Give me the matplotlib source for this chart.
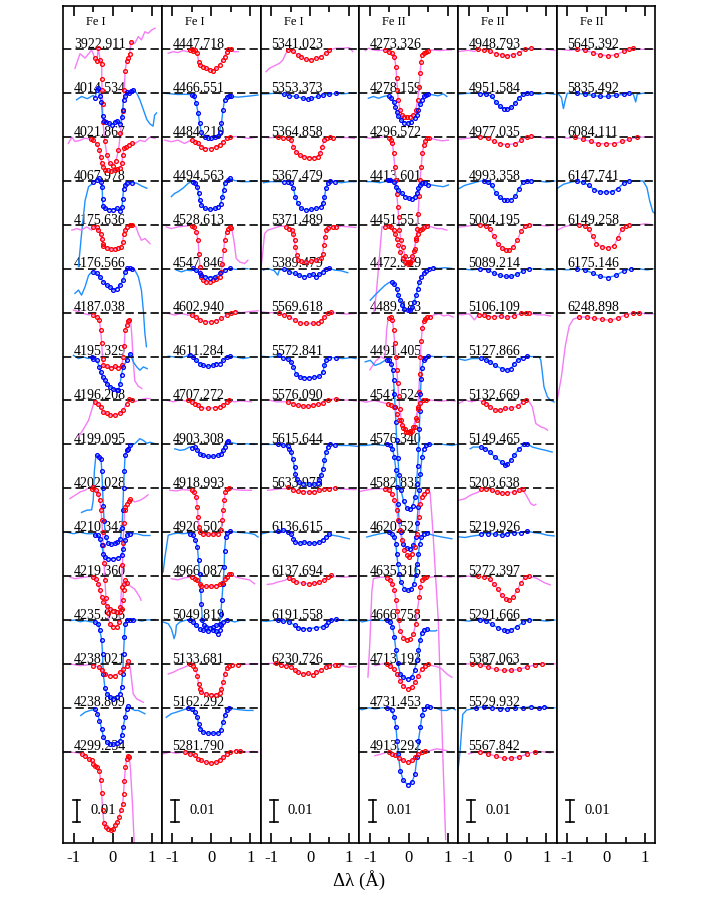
import numpy as np
import matplotlib
matplotlib.use('Agg')
import matplotlib.pyplot as plt

plt.rcParams['font.family'] = ['Liberation Serif', 'DejaVu Serif']
plt.rcParams['axes.unicode_minus'] = False

# ---------------- data: (delta-lambda [A], flux offset [units of 0.01]) ----------------
C1_LABELS = ["3922.911", "4014.534", "4021.867", "4067.978", "4175.636", "4176.566",
             "4187.038", "4195.329", "4196.208", "4199.095", "4202.028", "4210.343",
             "4219.360", "4235.936", "4238.021", "4238.809", "4299.234"]
C1_MARKS = [(-0.47, 0.48), (-0.46, 0.55), (-0.56, 0.5), (-0.51, 0.5), (-0.51, 0.52), (-0.5, 0.5),
            (-0.51, 0.44), (-0.55, 0.46), (-0.46, 0.5), (-0.42, 0.46), (-0.55, 0.46), (-0.46, 0.46),
            (-0.51, 0.37), (-0.46, 0.54), (-0.51, 0.41), (-0.46, 0.41), (-0.81, 0.44)]
C1_PROFILES = [
    [(-0.97,-0.87),(-0.84,-0.2),(-0.71,-0.4),(-0.54,-0.03),(-0.46,-0.4),(-0.41,-0.55),(-0.37,0.05),(-0.32,-0.5),(-0.28,-0.65),(-0.28,-1.35),(-0.27,-1.85),(-0.26,-2.5),(-0.25,-3.3),(-0.2,-4.2),(-0.15,-4.8),(-0.08,-5.2),(0.0,-5.3),(0.08,-5.1),(0.15,-4.6),(0.2,-3.8),(0.26,-2.8),(0.3,-1.85),(0.32,-1.0),(0.36,-0.55),(0.4,-0.4),(0.44,-0.2),(0.47,0.35),(0.57,0.27),(0.66,0.58),(0.74,0.43),(0.83,0.8),(0.92,0.73),(1.0,0.88),(1.09,0.96)],
    [(-0.93,-0.3),(-0.8,-0.15),(-0.65,-0.25),(-0.5,-0.1),(-0.45,-0.2),(-0.41,0.15),(-0.37,0.23),(-0.33,-0.15),(-0.29,-0.4),(-0.26,-1.06),(-0.23,-1.25),(-0.18,-1.3),(-0.1,-1.35),(-0.02,-1.45),(0.05,-1.3),(0.12,-1.25),(0.2,-1.4),(0.24,-1.1),(0.26,-0.75),(0.28,-0.3),(0.32,-0.15),(0.36,0.05),(0.41,0.0),(0.46,0.1),(0.53,0.15),(0.62,0.0),(0.7,-0.3),(0.8,-0.8),(0.88,-1.2),(0.96,-1.4),(1.04,-1.5),(1.08,-1.0),(1.13,-0.9)],
    [(-1.14,-0.29),(-1.05,0.0),(-0.97,-0.2),(-0.84,-0.15),(-0.71,-0.05),(-0.58,-0.1),(-0.55,-0.1),(-0.5,-0.15),(-0.41,-0.3),(-0.34,-0.6),(-0.31,-0.9),(-0.28,-1.2),(-0.24,-1.35),(-0.2,-1.5),(-0.12,-1.5),(-0.05,-1.55),(0.05,-1.5),(0.12,-1.45),(0.2,-1.4),(0.24,-1.2),(0.26,-0.8),(0.3,-0.5),(0.35,-0.45),(0.42,-0.35),(0.49,-0.29),(0.57,-0.29),(0.7,-0.15),(0.83,-0.2),(0.96,0.0),(1.09,-0.06)],
    [(-0.88,-3.9),(-0.8,-2.4),(-0.71,-0.9),(-0.62,-0.26),(-0.54,-0.15),(-0.5,-0.03),(-0.41,0.05),(-0.34,0.12),(-0.3,-0.03),(-0.27,-0.26),(-0.26,-0.8),(-0.25,-1.15),(-0.2,-1.25),(-0.1,-1.3),(0.0,-1.3),(0.1,-1.25),(0.2,-1.35),(0.24,-1.2),(0.26,-0.8),(0.28,-0.35),(0.32,-0.2),(0.36,-0.08),(0.49,-0.08),(0.62,-0.1),(0.75,-0.23),(0.88,-0.33)],
    [(-1.05,-0.24),(-0.92,-0.17),(-0.8,-0.24),(-0.67,-0.09),(-0.54,-0.24),(-0.5,-0.1),(-0.41,-0.09),(-0.37,-0.24),(-0.31,-0.4),(-0.28,-0.62),(-0.26,-0.85),(-0.24,-0.95),(-0.15,-1.05),(-0.05,-1.1),(0.05,-1.1),(0.15,-1.05),(0.22,-1.0),(0.26,-0.8),(0.28,-0.4),(0.32,-0.24),(0.36,-0.09),(0.45,0.0),(0.51,-0.01),(0.6,-0.09),(0.66,-0.4),(0.74,-0.7),(0.83,-0.62),(0.96,-0.85)],
    [(-0.97,-1.12),(-0.88,-0.97),(-0.8,-1.2),(-0.71,-0.82),(-0.62,-0.3),(-0.54,-0.14),(-0.5,-0.14),(-0.41,-0.21),(-0.33,-0.36),(-0.24,-0.59),(-0.15,-0.74),(-0.07,-0.82),(0.02,-0.97),(0.1,-0.9),(0.19,-0.74),(0.27,-0.52),(0.32,-0.14),(0.36,0.02),(0.45,0.02),(0.49,0.0),(0.57,-0.06),(0.66,-0.36),(0.74,-0.97),(0.79,-1.9),(0.83,-2.95),(0.87,-3.55)],
    [(-1.01,0.12),(-0.88,0.05),(-0.75,-0.03),(-0.62,-0.1),(-0.54,-0.03),(-0.5,-0.1),(-0.41,-0.18),(-0.34,-0.33),(-0.31,-0.8),(-0.28,-1.4),(-0.26,-2.1),(-0.24,-2.4),(-0.15,-2.45),(-0.05,-2.5),(0.05,-2.45),(0.15,-2.5),(0.24,-2.4),(0.27,-2.0),(0.3,-1.5),(0.32,-0.8),(0.36,-0.55),(0.4,-0.4),(0.43,-0.33),(0.46,-0.33),(0.49,-0.95),(0.53,-2.2),(0.57,-3.1),(0.66,-3.35),(0.75,-3.45)],
    [(-1.01,0.06),(-0.88,-0.09),(-0.75,-0.02),(-0.62,-0.09),(-0.54,-0.02),(-0.5,-0.09),(-0.41,-0.17),(-0.34,-0.47),(-0.31,-0.7),(-0.26,-0.93),(-0.2,-1.08),(-0.15,-1.23),(-0.07,-1.38),(0.02,-1.46),(0.12,-1.5),(0.15,-1.52),(0.19,-1.23),(0.23,-0.82),(0.27,-0.47),(0.36,-0.17),(0.45,0.14),(0.53,-0.24),(0.62,-0.47),(0.7,-0.62),(0.79,-0.47),(0.89,-0.55)],
    [(-0.88,-1.65),(-0.75,-1.3),(-0.62,-0.9),(-0.5,-0.2),(-0.45,-0.06),(-0.37,-0.14),(-0.31,-0.3),(-0.26,-0.52),(-0.15,-0.59),(-0.07,-0.67),(0.06,-0.67),(0.19,-0.59),(0.27,-0.44),(0.36,-0.14),(0.43,0.09),(0.49,0.02),(0.57,-0.06),(0.7,0.02),(0.83,0.09),(0.96,0.09)],
    [(-0.8,-3.1),(-0.67,-3.0),(-0.54,-2.98),(-0.5,-2.55),(-0.47,-1.2),(-0.43,-0.5),(-0.41,-0.5),(-0.34,-0.58),(-0.3,-0.65),(-0.28,-1.2),(-0.26,-2.0),(-0.24,-2.8),(-0.22,-3.5),(-0.18,-4.2),(-0.12,-4.5),(-0.05,-4.55),(0.05,-4.5),(0.12,-4.45),(0.2,-4.3),(0.24,-3.8),(0.26,-3.0),(0.28,-2.0),(0.3,-1.2),(0.32,-0.5),(0.36,-0.27),(0.4,-0.2),(0.45,-0.05),(0.57,0.03),(0.7,0.26),(0.79,0.18),(0.88,0.05),(0.96,0.1),(1.09,0.03)],
    [(-1.1,-0.47),(-0.97,-0.32),(-0.84,-0.17),(-0.71,-0.09),(-0.58,0.06),(-0.54,-0.02),(-0.5,0.06),(-0.43,-0.09),(-0.37,-0.24),(-0.33,-0.55),(-0.3,-1.0),(-0.28,-1.45),(-0.26,-2.0),(-0.24,-2.6),(-0.22,-3.4),(-0.2,-4.2),(-0.17,-5.0),(-0.13,-5.7),(-0.07,-6.2),(0.02,-6.3),(0.1,-6.3),(0.16,-6.1),(0.2,-5.4),(0.23,-4.5),(0.25,-3.5),(0.27,-2.5),(0.29,-1.6),(0.31,-1.0),(0.33,-0.85),(0.37,-0.7),(0.41,-0.6),(0.45,-0.5),(0.57,-0.62),(0.7,-0.55),(0.8,-0.45),(0.91,-0.3)],
    [(-1.18,0.0),(-1.01,-0.07),(-0.84,0.0),(-0.67,-0.07),(-0.5,-0.07),(-0.45,-0.15),(-0.37,-0.15),(-0.33,-0.3),(-0.28,-0.6),(-0.24,-1.0),(-0.2,-1.13),(-0.11,-1.2),(0.02,-1.2),(0.15,-1.16),(0.23,-1.06),(0.27,-0.75),(0.32,-0.37),(0.36,-0.15),(0.45,-0.07),(0.62,-0.07),(0.79,-0.15),(0.96,-0.15)],
    [(-1.1,-0.05),(-0.97,-0.12),(-0.84,-0.08),(-0.71,-0.05),(-0.58,-0.02),(-0.5,-0.05),(-0.43,-0.12),(-0.37,-0.35),(-0.33,-0.65),(-0.28,-0.96),(-0.24,-1.19),(-0.15,-1.34),(-0.07,-1.49),(0.02,-1.57),(0.1,-1.64),(0.19,-1.64),(0.23,-1.49),(0.26,-1.1),(0.28,-0.65),(0.3,-0.35),(0.33,-0.2),(0.36,-0.3),(0.45,-0.45),(0.57,-0.6),(0.7,-0.96),(0.73,-1.1)],
    [(-1.1,-0.03),(-0.97,0.0),(-0.84,-0.08),(-0.71,-0.03),(-0.58,-0.08),(-0.45,-0.1),(-0.37,-0.17),(-0.33,-0.47),(-0.28,-0.93),(-0.26,-1.55),(-0.24,-2.45),(-0.2,-3.1),(-0.15,-3.35),(-0.07,-3.5),(0.02,-3.6),(0.1,-3.5),(0.19,-3.35),(0.23,-3.05),(0.26,-2.45),(0.28,-1.55),(0.3,-0.78),(0.32,-0.17),(0.36,0.0),(0.45,0.02),(0.53,0.0),(0.62,0.0),(0.75,-0.05),(0.87,0.0),(1.09,0.02)],
    [(-1.1,0.0),(-0.84,-0.08),(-0.58,-0.03),(-0.5,-0.08),(-0.34,-0.15),(-0.28,-0.3),(-0.2,-0.45),(-0.07,-0.53),(0.06,-0.53),(0.19,-0.38),(0.27,-0.23),(0.36,-0.08),(0.4,0.12),(0.45,-0.15),(0.49,-0.76),(0.53,-1.37),(0.62,-1.6),(0.7,-1.67),(0.79,-1.75)],
    [(-0.82,-0.35),(-0.71,-0.2),(-0.58,-0.12),(-0.5,-0.09),(-0.45,-0.05),(-0.39,-0.27),(-0.34,-0.58),(-0.28,-0.96),(-0.24,-1.34),(-0.15,-1.57),(-0.07,-1.64),(0.02,-1.67),(0.1,-1.61),(0.19,-1.49),(0.23,-1.26),(0.27,-0.88),(0.32,-0.43),(0.36,-0.05),(0.4,0.06),(0.49,-0.05),(0.57,-0.12),(0.66,-0.12),(0.75,-0.2),(0.83,-0.27)],
    [(-1.27,0.0),(-1.1,-0.02),(-0.9,-0.05),(-0.8,-0.1),(-0.71,-0.18),(-0.62,-0.33),(-0.54,-0.4),(-0.5,-0.55),(-0.45,-0.63),(-0.39,-0.71),(-0.34,-0.86),(-0.31,-1.3),(-0.28,-1.9),(-0.26,-2.66),(-0.22,-3.27),(-0.17,-3.42),(-0.11,-3.5),(-0.03,-3.57),(0.02,-3.5),(0.06,-3.35),(0.12,-3.2),(0.17,-2.97),(0.21,-2.66),(0.26,-2.36),(0.28,-1.92),(0.3,-1.32),(0.33,-0.71),(0.36,-0.33),(0.4,-0.18),(0.43,-0.25),(0.46,-0.86),(0.51,-2.36),(0.55,-4.0),(0.6,-6.0)],
]

C2_LABELS = ["4447.718", "4466.551", "4484.219", "4494.563", "4528.613", "4547.846",
             "4602.940", "4611.284", "4707.272", "4903.308", "4918.993", "4920.502",
             "4966.087", "5049.819", "5133.681", "5162.292", "5281.790"]
C2_MARKS = [(-0.57, 0.51), (-0.52, 0.52), (-0.52, 0.48), (-0.48, 0.48), (-0.52, 0.51), (-0.48, 0.48),
            (-0.52, 0.61), (-0.57, 0.48), (-0.61, 0.46), (-0.52, 0.44), (-0.52, 0.46), (-0.57, 0.48),
            (-0.52, 0.51), (-0.57, 0.4), (-0.57, 0.7), (-0.61, 0.46), (-0.7, 0.74)]
C2_PROFILES = [
    [(-1.11,-0.18),(-0.98,-0.11),(-0.86,-0.15),(-0.73,-0.06),(-0.6,-0.11),(-0.56,-0.03),(-0.51,0.0),(-0.47,-0.06),(-0.41,-0.03),(-0.36,-0.18),(-0.33,-0.56),(-0.3,-0.71),(-0.21,-0.79),(-0.13,-0.87),(-0.04,-0.94),(0.04,-0.97),(0.13,-0.87),(0.21,-0.71),(0.3,-0.49),(0.34,-0.33),(0.39,-0.11),(0.43,0.0),(0.5,0.0),(0.58,-0.11),(0.69,-0.11)],
    [(-1.2,0.0),(-1.03,-0.03),(-0.86,-0.06),(-0.69,-0.05),(-0.56,-0.06),(-0.51,-0.08),(-0.45,-0.12),(-0.39,-0.46),(-0.34,-0.91),(-0.3,-1.37),(-0.26,-1.75),(-0.17,-1.98),(-0.09,-2.05),(0.0,-2.05),(0.09,-2.0),(0.17,-1.94),(0.21,-1.75),(0.26,-1.37),(0.3,-0.76),(0.34,-0.3),(0.39,-0.18),(0.45,-0.12),(0.51,-0.15),(0.69,-0.18),(0.86,-0.15),(1.03,-0.12),(1.2,-0.08)],
    [(-1.2,-0.14),(-1.03,-0.21),(-0.86,-0.14),(-0.69,-0.29),(-0.53,-0.14),(-0.51,-0.14),(-0.43,-0.21),(-0.34,-0.29),(-0.26,-0.44),(-0.17,-0.52),(0.0,-0.52),(0.13,-0.44),(0.21,-0.36),(0.3,-0.21),(0.39,-0.06),(0.47,0.02),(0.64,0.02),(0.81,-0.02),(0.98,-0.06),(1.16,0.0)],
    [(-1.03,-0.71),(-0.94,-0.56),(-0.86,-0.49),(-0.73,-0.33),(-0.6,-0.11),(-0.51,-0.03),(-0.47,-0.03),(-0.41,-0.08),(-0.36,-0.26),(-0.33,-0.56),(-0.3,-0.87),(-0.26,-1.09),(-0.17,-1.25),(-0.04,-1.29),(0.09,-1.25),(0.17,-1.17),(0.24,-1.03),(0.28,-0.72),(0.32,-0.41),(0.34,-0.11),(0.43,0.05),(0.47,0.12),(0.6,0.02),(0.77,-0.03),(0.94,-0.03),(1.16,0.0)],
    [(-1.16,-0.09),(-1.03,-0.17),(-0.86,-0.09),(-0.69,-0.06),(-0.56,-0.03),(-0.51,-0.03),(-0.45,-0.09),(-0.39,-0.32),(-0.34,-0.7),(-0.32,-1.31),(-0.29,-1.92),(-0.26,-2.37),(-0.21,-2.52),(-0.13,-2.6),(-0.04,-2.6),(0.04,-2.52),(0.13,-2.45),(0.21,-2.37),(0.26,-2.14),(0.28,-1.76),(0.32,-1.16),(0.34,-0.7),(0.39,-0.32),(0.43,-0.17),(0.47,-0.09),(0.5,-0.12),(0.53,-0.24),(0.58,-0.7),(0.64,-1.53),(0.73,-1.69),(0.86,-1.76),(0.94,-1.61)],
    [(-0.9,-0.06),(-0.77,-0.14),(-0.64,-0.06),(-0.51,-0.09),(-0.47,0.02),(-0.39,-0.06),(-0.3,-0.21),(-0.26,-0.29),(-0.17,-0.36),(-0.04,-0.4),(0.09,-0.36),(0.21,-0.21),(0.34,-0.06),(0.47,0.02),(0.64,-0.03),(0.81,0.02),(0.94,0.0)],
    [(-1.11,-0.03),(-0.94,-0.11),(-0.77,-0.03),(-0.6,-0.11),(-0.51,-0.11),(-0.39,-0.18),(-0.3,-0.33),(-0.17,-0.41),(0.0,-0.41),(0.13,-0.36),(0.26,-0.26),(0.39,-0.11),(0.51,-0.03),(0.6,0.05),(0.77,0.0),(0.98,0.05),(1.2,0.09)],
    [(-1.11,0.02),(-0.94,-0.02),(-0.77,-0.05),(-0.64,0.02),(-0.56,0.06),(-0.47,-0.02),(-0.39,-0.17),(-0.3,-0.32),(-0.21,-0.4),(-0.09,-0.44),(0.04,-0.4),(0.13,-0.32),(0.21,-0.32),(0.3,-0.17),(0.39,-0.02),(0.47,0.02),(0.64,-0.02),(0.81,-0.09),(0.96,-0.05)],
    [(-1.16,0.02),(-0.98,-0.06),(-0.81,0.02),(-0.64,-0.02),(-0.6,0.02),(-0.51,-0.06),(-0.41,-0.14),(-0.34,-0.21),(-0.26,-0.32),(-0.09,-0.36),(0.09,-0.32),(0.21,-0.29),(0.3,-0.21),(0.39,-0.06),(0.45,0.02),(0.6,-0.06),(0.77,-0.02),(1.03,-0.06)],
    [(-0.94,-0.2),(-0.81,-0.27),(-0.69,-0.24),(-0.56,-0.12),(-0.51,-0.15),(-0.43,-0.12),(-0.36,-0.24),(-0.3,-0.43),(-0.21,-0.5),(-0.09,-0.55),(0.04,-0.55),(0.17,-0.5),(0.26,-0.43),(0.3,-0.27),(0.34,-0.12),(0.39,0.11),(0.43,0.15),(0.56,0.06),(0.73,0.0),(0.9,0.03),(1.11,0.0)],
    [(-1.07,-0.09),(-0.9,-0.12),(-0.73,-0.06),(-0.56,-0.09),(-0.51,-0.09),(-0.45,-0.17),(-0.39,-0.4),(-0.36,-0.85),(-0.34,-1.31),(-0.32,-1.76),(-0.3,-1.99),(-0.21,-2.07),(-0.09,-2.1),(0.04,-2.1),(0.17,-2.07),(0.26,-1.92),(0.28,-1.46),(0.3,-1.0),(0.33,-0.55),(0.36,-0.17),(0.41,-0.02),(0.45,0.03),(0.6,-0.06),(0.81,-0.09),(1.03,-0.09)],
    [(-1.24,-1.81),(-1.2,-1.2),(-1.11,-0.14),(-0.98,-0.07),(-0.86,-0.04),(-0.73,-0.07),(-0.6,-0.04),(-0.56,-0.07),(-0.47,-0.14),(-0.41,-0.37),(-0.36,-0.68),(-0.33,-1.28),(-0.3,-1.89),(-0.27,-2.65),(-0.26,-3.25),(-0.23,-4.0),(-0.2,-4.25),(-0.13,-4.33),(-0.04,-4.36),(0.04,-4.33),(0.13,-4.25),(0.21,-4.17),(0.24,-3.73),(0.27,-3.1),(0.3,-2.36),(0.33,-1.6),(0.34,-0.84),(0.37,-0.22),(0.41,-0.04),(0.47,0.04),(0.6,0.01),(0.77,-0.02),(0.94,-0.04),(1.11,-0.1),(1.2,-0.22)],
    [(-1.03,-0.12),(-0.86,-0.17),(-0.69,-0.08),(-0.56,-0.05),(-0.51,-0.05),(-0.43,-0.12),(-0.36,-0.2),(-0.3,-0.35),(-0.26,-0.43),(-0.13,-0.47),(0.0,-0.47),(0.13,-0.43),(0.21,-0.38),(0.27,-0.32),(0.34,-0.12),(0.39,-0.02),(0.45,0.08),(0.5,0.08),(0.64,-0.05),(0.81,-0.12),(0.98,-0.17),(1.11,-0.35)],
    [(-1.24,-0.09),(-1.11,-0.17),(-1.03,-0.4),(-0.98,-0.7),(-0.96,-0.85),(-0.92,-0.62),(-0.9,-0.24),(-0.81,-0.09),(-0.6,0.02),(-0.56,0.02),(-0.47,-0.09),(-0.39,-0.24),(-0.3,-0.4),(-0.21,-0.47),(-0.09,-0.5),(0.04,-0.47),(0.13,-0.5),(0.17,-0.62),(0.21,-0.47),(0.26,-0.24),(0.3,-0.09),(0.39,0.02),(0.47,-0.02),(0.6,-0.09),(0.73,-0.02),(0.87,-0.02)],
    [(-1.11,-0.46),(-0.98,-0.38),(-0.86,-0.27),(-0.73,-0.18),(-0.6,-0.08),(-0.56,0.0),(-0.47,-0.08),(-0.41,-0.23),(-0.36,-0.53),(-0.33,-0.9),(-0.3,-1.14),(-0.26,-1.29),(-0.13,-1.37),(0.0,-1.4),(0.13,-1.4),(0.21,-1.34),(0.26,-1.14),(0.3,-0.84),(0.34,-0.46),(0.39,-0.18),(0.45,-0.08),(0.53,-0.03),(0.69,-0.03),(0.81,-0.03),(1.03,0.0),(1.2,0.0)],
    [(-1.16,-0.43),(-1.03,-0.27),(-0.9,-0.2),(-0.77,-0.12),(-0.64,-0.05),(-0.6,0.0),(-0.51,-0.05),(-0.43,-0.2),(-0.36,-0.43),(-0.33,-0.73),(-0.28,-0.96),(-0.21,-1.11),(-0.09,-1.16),(0.04,-1.16),(0.17,-1.16),(0.24,-1.03),(0.3,-0.65),(0.34,-0.35),(0.39,-0.12),(0.45,0.0),(0.56,-0.05),(0.73,-0.09),(0.9,-0.12),(1.07,-0.12)],
    [(-1.24,-0.1),(-1.07,-0.02),(-0.9,-0.07),(-0.73,-0.02),(-0.69,-0.02),(-0.56,-0.1),(-0.43,-0.17),(-0.34,-0.33),(-0.26,-0.4),(-0.13,-0.48),(0.0,-0.52),(0.13,-0.48),(0.21,-0.4),(0.3,-0.25),(0.39,-0.1),(0.47,-0.02),(0.64,0.05),(0.73,0.05),(0.86,-0.02),(1.07,0.01),(1.2,-0.02)],
]

C3_LABELS = ["5341.023", "5353.373", "5364.858", "5367.479", "5371.489", "5389.479",
             "5569.618", "5572.841", "5576.090", "5615.644", "5633.975", "6136.615",
             "6137.694", "6191.558", "6230.726"]
C3_MARKS = [(-0.58, 0.51), (-0.67, 0.68), (-0.84, 0.59), (-0.67, 0.64), (-0.63, 0.68), (-0.67, 0.51),
            (-0.8, 0.55), (-0.8, 0.68), (-0.58, 0.68), (-0.84, 0.64), (-0.58, 0.64), (-0.84, 0.49),
            (-0.54, 0.55), (-0.84, 0.68), (-0.88, 0.72)]
C3_PROFILES = [
    [(-1.13,-1.02),(-1.05,-0.87),(-0.96,-0.79),(-0.87,-0.71),(-0.79,-0.64),(-0.7,-0.49),(-0.62,-0.18),(-0.59,-0.11),(-0.57,-0.03),(-0.45,-0.06),(-0.32,-0.26),(-0.23,-0.33),(-0.1,-0.46),(0.03,-0.49),(0.15,-0.41),(0.28,-0.33),(0.41,-0.18),(0.5,-0.03),(0.67,0.05),(0.84,0.05),(1.01,0.08),(1.1,-0.11)],
    [(-1.3,-0.03),(-1.13,-0.03),(-0.87,0.0),(-0.7,-0.03),(-0.66,-0.05),(-0.53,-0.12),(-0.36,-0.15),(-0.19,-0.23),(-0.06,-0.27),(0.03,-0.24),(0.2,-0.15),(0.33,-0.09),(0.5,-0.05),(0.67,0.0),(0.84,-0.03),(1.01,0.0),(1.18,0.0)],
    [(-1.2,0.0),(-1.03,-0.03),(-0.87,0.0),(-0.83,0.0),(-0.7,-0.03),(-0.57,-0.03),(-0.49,-0.14),(-0.43,-0.44),(-0.36,-0.67),(-0.27,-0.82),(-0.15,-0.9),(-0.02,-0.93),(0.11,-0.93),(0.2,-0.9),(0.26,-0.74),(0.31,-0.44),(0.37,-0.14),(0.43,-0.03),(0.51,0.0),(0.58,-0.02),(0.75,-0.02),(0.97,-0.02),(1.14,-0.06)],
    [(-1.2,-0.08),(-1.03,-0.03),(-0.87,-0.03),(-0.7,-0.03),(-0.66,-0.03),(-0.57,-0.03),(-0.49,-0.11),(-0.43,-0.33),(-0.38,-0.71),(-0.32,-1.02),(-0.23,-1.25),(-0.1,-1.32),(0.03,-1.29),(0.15,-1.25),(0.28,-1.17),(0.33,-1.02),(0.37,-0.71),(0.41,-0.33),(0.45,-0.11),(0.51,0.02),(0.63,-0.03),(0.8,-0.08),(1.01,-0.03),(1.18,-0.03)],
    [(-1.26,-1.9),(-1.22,-1.31),(-1.17,-0.4),(-1.09,-0.24),(-0.96,-0.17),(-0.83,-0.09),(-0.75,-0.06),(-0.66,-0.06),(-0.62,-0.09),(-0.53,-0.17),(-0.46,-0.24),(-0.43,-0.4),(-0.4,-0.7),(-0.38,-1.0),(-0.34,-1.38),(-0.32,-1.61),(-0.23,-1.66),(-0.1,-1.69),(0.03,-1.66),(0.15,-1.61),(0.28,-1.53),(0.33,-1.31),(0.35,-0.93),(0.38,-0.55),(0.41,-0.24),(0.45,-0.15),(0.58,-0.09),(0.67,-0.09),(0.8,-0.06),(1.01,-0.09),(1.18,-0.12)],
    [(-1.2,-0.06),(-1.09,0.02),(-0.92,-0.09),(-0.83,-0.29),(-0.79,-0.06),(-0.7,-0.03),(-0.66,-0.03),(-0.53,-0.14),(-0.4,-0.21),(-0.28,-0.29),(-0.15,-0.36),(-0.02,-0.29),(0.07,-0.24),(0.15,-0.36),(0.24,-0.24),(0.33,-0.14),(0.41,-0.03),(0.5,0.03),(0.63,-0.06),(0.8,-0.09),(0.97,-0.18)],
    [(-1.3,0.05),(-1.09,0.0),(-0.87,0.0),(-0.79,-0.03),(-0.66,-0.11),(-0.53,-0.18),(-0.4,-0.33),(-0.27,-0.46),(-0.1,-0.49),(0.07,-0.49),(0.2,-0.46),(0.28,-0.36),(0.37,-0.18),(0.45,-0.03),(0.54,0.02),(0.71,-0.03),(0.93,-0.06),(1.18,-0.03)],
    [(-1.26,0.02),(-1.05,-0.02),(-0.87,0.02),(-0.79,0.06),(-0.7,-0.05),(-0.57,-0.09),(-0.49,-0.24),(-0.43,-0.47),(-0.36,-0.78),(-0.27,-0.93),(-0.15,-0.96),(-0.02,-0.96),(0.11,-0.93),(0.24,-0.9),(0.33,-0.7),(0.37,-0.4),(0.41,-0.14),(0.5,-0.05),(0.67,-0.05),(0.84,-0.09),(1.05,-0.05),(1.18,-0.09)],
    [(-1.05,0.02),(-0.87,-0.06),(-0.7,-0.06),(-0.57,-0.06),(-0.45,-0.14),(-0.32,-0.21),(-0.19,-0.26),(-0.06,-0.26),(0.07,-0.21),(0.2,-0.17),(0.33,-0.11),(0.46,0.02),(0.67,0.09),(0.84,0.02),(1.01,0.02),(1.18,-0.02)],
    [(-1.39,-0.05),(-1.22,0.0),(-1.05,0.0),(-0.87,0.0),(-0.83,0.0),(-0.7,-0.03),(-0.57,-0.09),(-0.53,-0.2),(-0.49,-0.35),(-0.45,-0.65),(-0.4,-1.03),(-0.38,-1.34),(-0.34,-1.57),(-0.29,-1.72),(-0.19,-1.79),(-0.02,-1.82),(0.11,-1.82),(0.2,-1.76),(0.24,-1.64),(0.28,-1.41),(0.33,-1.12),(0.37,-0.73),(0.41,-0.35),(0.45,-0.12),(0.51,0.0),(0.63,-0.02),(0.8,-0.05),(1.01,-0.05),(1.22,-0.09)],
    [(-1.09,-0.09),(-0.92,-0.06),(-0.75,-0.02),(-0.62,-0.02),(-0.57,0.06),(-0.45,-0.06),(-0.32,-0.12),(-0.19,-0.15),(-0.02,-0.17),(0.11,-0.15),(0.24,-0.09),(0.37,-0.03),(0.5,-0.02),(0.63,0.02),(0.75,-0.02),(0.97,-0.05),(1.18,-0.06)],
    [(-1.39,-0.07),(-1.22,-0.07),(-1.05,0.01),(-0.87,0.01),(-0.83,0.05),(-0.7,0.08),(-0.57,0.01),(-0.49,-0.07),(-0.43,-0.3),(-0.38,-0.45),(-0.27,-0.5),(-0.15,-0.45),(-0.02,-0.5),(0.11,-0.5),(0.24,-0.45),(0.33,-0.34),(0.41,-0.22),(0.48,-0.1),(0.58,-0.14),(0.75,-0.19),(0.88,-0.25),(1.01,-0.3)],
    [(-1.1,-0.38),(-0.96,-0.35),(-0.83,-0.27),(-0.66,-0.2),(-0.57,-0.12),(-0.53,-0.08),(-0.45,-0.17),(-0.36,-0.27),(-0.19,-0.32),(-0.02,-0.35),(0.11,-0.32),(0.24,-0.27),(0.37,-0.17),(0.45,-0.05),(0.54,0.03),(0.67,-0.02),(0.88,-0.05),(1.18,0.0)],
    [(-1.35,-0.02),(-1.13,-0.06),(-0.92,-0.02),(-0.83,-0.02),(-0.7,-0.05),(-0.53,-0.09),(-0.4,-0.24),(-0.32,-0.35),(-0.19,-0.4),(-0.02,-0.4),(0.15,-0.35),(0.33,-0.32),(0.41,-0.24),(0.45,-0.09),(0.54,-0.02),(0.67,0.03),(0.84,-0.02),(1.05,-0.02),(1.22,-0.02)],
    [(-1.39,-0.03),(-1.17,0.0),(-0.96,0.03),(-0.87,0.03),(-0.75,-0.03),(-0.62,-0.08),(-0.49,-0.12),(-0.4,-0.27),(-0.32,-0.38),(-0.19,-0.46),(-0.06,-0.43),(0.07,-0.49),(0.15,-0.38),(0.28,-0.27),(0.41,-0.15),(0.5,-0.08),(0.63,-0.05),(0.71,-0.03),(0.84,-0.08),(1.01,-0.15),(1.18,-0.12)],
]

C4_LABELS = ["4273.326", "4278.159", "4296.572", "4413.601", "4451.551", "4472.929",
             "4489.183", "4491.405", "4541.524", "4576.340", "4582.835", "4620.521",
             "4635.316", "4666.758", "4713.193", "4731.453", "4913.292"]
C4_MARKS = [(-0.62, 0.5), (-0.53, 0.51), (-0.53, 0.53), (-0.55, 0.5), (-0.62, 0.47), (-0.45, 0.64),
            (-0.51, 0.56), (-0.58, 0.51), (-0.55, 0.45), (-0.57, 0.53), (-0.62, 0.47), (-0.53, 0.47),
            (-0.57, 0.45), (-0.58, 0.47), (-0.58, 0.51), (-0.57, 0.56), (-0.53, 0.43)]
C4_PROFILES = [
    [(-1.12,-0.06),(-1.03,0.05),(-0.91,-0.03),(-0.78,-0.06),(-0.65,-0.03),(-0.61,-0.03),(-0.52,-0.11),(-0.44,-0.18),(-0.37,-0.33),(-0.33,-0.79),(-0.31,-1.32),(-0.29,-1.85),(-0.27,-2.31),(-0.22,-2.77),(-0.18,-3.0),(-0.11,-3.07),(-0.05,-3.1),(0.03,-3.07),(0.12,-3.0),(0.18,-2.77),(0.23,-2.31),(0.27,-1.71),(0.29,-1.09),(0.32,-0.56),(0.33,-0.26),(0.38,-0.15),(0.44,-0.11),(0.49,-0.06),(0.63,-0.03),(0.81,-0.06),(0.98,-0.03),(1.1,-0.03)],
    [(-1.04,-0.23),(-0.91,-0.15),(-0.78,-0.23),(-0.65,-0.15),(-0.57,-0.12),(-0.52,-0.15),(-0.45,-0.23),(-0.39,-0.38),(-0.35,-0.61),(-0.31,-0.84),(-0.27,-1.06),(-0.2,-1.22),(-0.11,-1.34),(-0.03,-1.37),(0.06,-1.29),(0.15,-1.14),(0.21,-0.99),(0.25,-0.76),(0.29,-0.49),(0.33,-0.3),(0.38,-0.15),(0.44,-0.08),(0.5,-0.03),(0.63,-0.08),(0.76,-0.12),(0.89,-0.03),(0.98,-0.15)],
    [(-1.12,-0.02),(-0.95,-0.06),(-0.78,-0.02),(-0.61,0.02),(-0.52,-0.02),(-0.45,-0.11),(-0.42,-0.29),(-0.39,-0.74),(-0.36,-1.35),(-0.33,-1.96),(-0.31,-2.57),(-0.28,-3.18),(-0.26,-3.63),(-0.24,-4.24),(-0.2,-4.7),(-0.16,-5.0),(-0.09,-5.4),(-0.03,-5.7),(0.03,-5.75),(0.09,-5.6),(0.14,-5.2),(0.19,-4.6),(0.21,-4.2),(0.24,-3.5),(0.27,-2.7),(0.29,-1.96),(0.32,-1.35),(0.35,-0.74),(0.39,-0.36),(0.42,-0.17),(0.46,-0.06),(0.52,-0.02),(0.68,-0.11),(0.85,-0.17),(1.02,-0.14)],
    [(-1.08,-0.03),(-0.91,-0.03),(-0.74,-0.08),(-0.61,-0.03),(-0.54,0.05),(-0.48,0.05),(-0.39,-0.03),(-0.33,-0.26),(-0.27,-0.41),(-0.18,-0.56),(-0.09,-0.71),(0.0,-0.79),(0.08,-0.82),(0.15,-0.75),(0.21,-0.56),(0.25,-0.33),(0.3,-0.18),(0.33,-0.11),(0.42,-0.08),(0.49,-0.18),(0.59,-0.18),(0.76,-0.23),(0.89,-0.26),(1.02,-0.18)],
    [(-0.95,-4.05),(-0.9,-4.0),(-0.84,-3.2),(-0.78,-2.0),(-0.72,-0.7),(-0.69,-0.09),(-0.64,-0.09),(-0.61,-0.09),(-0.52,-0.06),(-0.45,-0.09),(-0.39,-0.24),(-0.35,-0.4),(-0.31,-0.62),(-0.27,-0.93),(-0.22,-1.23),(-0.16,-1.53),(-0.09,-1.68),(-0.03,-1.79),(0.03,-1.68),(0.09,-1.43),(0.15,-1.08),(0.19,-0.7),(0.23,-0.4),(0.28,-0.24),(0.33,-0.17),(0.4,-0.09),(0.46,-0.06),(0.59,-0.09),(0.72,-0.17),(0.85,-0.17),(0.98,-0.24)],
    [(-0.99,-1.43),(-0.87,-1.2),(-0.74,-0.97),(-0.61,-0.75),(-0.52,-0.64),(-0.46,-0.59),(-0.44,-0.59),(-0.37,-0.67),(-0.31,-0.9),(-0.27,-1.2),(-0.22,-1.43),(-0.18,-1.66),(-0.11,-1.81),(-0.03,-1.89),(0.03,-1.86),(0.09,-1.73),(0.14,-1.5),(0.19,-1.2),(0.23,-0.9),(0.27,-0.59),(0.31,-0.36),(0.38,-0.21),(0.44,-0.09),(0.52,0.0),(0.63,0.05),(0.76,0.02),(0.93,0.05),(1.1,0.02)],
    [(-1.0,-2.6),(-0.85,-2.2),(-0.72,-2.0),(-0.62,-2.1),(-0.59,-1.5),(-0.57,-0.8),(-0.53,-0.26),(-0.5,-0.26),(-0.45,-0.2),(-0.42,-0.35),(-0.39,-0.8),(-0.36,-1.4),(-0.33,-2.0),(-0.31,-2.6),(-0.28,-3.2),(-0.26,-3.8),(-0.23,-4.4),(-0.19,-4.9),(-0.14,-5.25),(-0.06,-5.45),(0.02,-5.5),(0.09,-5.4),(0.15,-5.2),(0.2,-4.9),(0.24,-4.3),(0.26,-3.6),(0.28,-2.8),(0.3,-2.0),(0.32,-1.3),(0.35,-0.7),(0.38,-0.4),(0.42,-0.3),(0.47,-0.2),(0.55,-0.2),(0.65,-0.1),(0.78,-0.05),(0.9,-0.15),(1.02,-0.1),(1.14,-0.2)],
    [(-1.12,-0.24),(-0.99,-0.17),(-0.87,-0.4),(-0.74,-0.32),(-0.61,-0.17),(-0.57,-0.14),(-0.52,-0.17),(-0.45,-0.32),(-0.41,-0.62),(-0.39,-1.08),(-0.37,-1.69),(-0.35,-2.3),(-0.33,-3.0),(-0.31,-3.8),(-0.28,-4.6),(-0.25,-5.4),(-0.2,-6.1),(-0.13,-6.6),(-0.05,-6.9),(0.03,-6.95),(0.1,-6.8),(0.16,-6.4),(0.2,-5.8),(0.23,-5.0),(0.25,-4.2),(0.27,-3.3),(0.29,-2.5),(0.3,-1.7),(0.32,-1.0),(0.34,-0.5),(0.38,-0.15),(0.42,-0.05),(0.5,0.02),(0.68,0.0),(0.85,0.0),(1.11,0.0)],
    [(-1.27,0.0),(-1.1,-0.08),(-0.9,0.0),(-0.7,-0.08),(-0.54,-0.15),(-0.45,-0.2),(-0.38,-0.3),(-0.31,-0.6),(-0.24,-0.9),(-0.17,-1.12),(-0.1,-1.3),(-0.03,-1.43),(0.04,-1.4),(0.12,-1.2),(0.18,-0.8),(0.24,-0.4),(0.3,-0.1),(0.37,0.0),(0.44,0.0),(0.56,0.02),(0.8,-0.03),(1.05,0.0),(1.2,-0.02)],
    [(-1.27,-0.05),(-1.12,-0.05),(-0.87,0.0),(-0.65,-0.05),(-0.56,0.0),(-0.48,-0.05),(-0.42,-0.2),(-0.37,-0.58),(-0.33,-1.18),(-0.31,-1.95),(-0.28,-2.7),(-0.25,-3.47),(-0.21,-4.0),(-0.14,-4.53),(-0.05,-4.73),(0.03,-4.76),(0.12,-4.6),(0.18,-4.2),(0.21,-3.6),(0.24,-2.85),(0.27,-2.1),(0.3,-1.34),(0.34,-0.58),(0.38,-0.2),(0.44,-0.05),(0.52,0.0),(0.68,0.0),(0.89,0.0),(1.11,-0.05),(1.24,0.0)],
    [(-1.27,-0.15),(-1.12,-0.09),(-0.86,-0.02),(-0.69,-0.02),(-0.61,-0.02),(-0.52,-0.09),(-0.44,-0.24),(-0.37,-0.55),(-0.31,-1.0),(-0.27,-1.46),(-0.22,-1.92),(-0.18,-2.36),(-0.11,-2.8),(-0.05,-3.04),(0.01,-3.12),(0.08,-2.98),(0.15,-2.67),(0.21,-2.07),(0.26,-1.31),(0.29,-0.7),(0.33,-0.4),(0.4,-0.24),(0.46,-0.12),(0.52,0.0),(0.55,-0.24),(0.59,-1.15),(0.63,-2.2),(0.68,-3.7),(0.76,-6.0),(0.8,-8.3),(0.85,-10.6),(0.89,-12.9),(0.95,-16.0)],
    [(-1.08,-0.22),(-0.91,-0.14),(-0.74,-0.07),(-0.61,-0.04),(-0.52,0.01),(-0.44,-0.07),(-0.37,-0.22),(-0.33,-0.52),(-0.31,-0.98),(-0.28,-1.44),(-0.25,-1.9),(-0.2,-2.28),(-0.11,-2.58),(-0.03,-2.65),(0.06,-2.58),(0.13,-2.35),(0.18,-1.97),(0.22,-1.44),(0.25,-0.98),(0.28,-0.52),(0.32,-0.22),(0.38,-0.07),(0.46,-0.04),(0.63,-0.14),(0.85,-0.22),(1.11,-0.3)],
    [(-1.05,-4.6),(-1.0,-3.0),(-0.95,-0.7),(-0.91,-0.12),(-0.74,-0.05),(-0.61,-0.05),(-0.56,-0.08),(-0.48,-0.17),(-0.42,-0.35),(-0.37,-0.65),(-0.33,-1.1),(-0.3,-1.57),(-0.26,-2.0),(-0.22,-2.5),(-0.14,-2.8),(-0.05,-2.9),(0.03,-2.86),(0.12,-2.63),(0.18,-2.17),(0.22,-1.57),(0.27,-0.97),(0.3,-0.5),(0.33,-0.2),(0.38,-0.08),(0.44,-0.05),(0.55,-0.05),(0.72,-0.02),(0.89,-0.02),(1.1,-0.05)],
    [(-1.27,-0.02),(-1.2,-0.09),(-1.03,-0.02),(-0.86,0.02),(-0.69,-0.02),(-0.57,-0.02),(-0.48,-0.09),(-0.42,-0.32),(-0.37,-0.78),(-0.33,-1.38),(-0.28,-1.98),(-0.22,-2.45),(-0.14,-2.6),(-0.03,-2.68),(0.08,-2.6),(0.15,-2.28),(0.21,-1.84),(0.25,-1.38),(0.29,-0.93),(0.33,-0.61),(0.38,-0.46),(0.46,-0.4),(0.56,-0.5),(0.69,-0.5),(0.72,-0.47)],
    [(-0.87,-0.08),(-0.69,0.0),(-0.6,0.0),(-0.57,0.0),(-0.48,-0.08),(-0.39,-0.23),(-0.31,-0.46),(-0.22,-0.76),(-0.14,-0.99),(-0.03,-1.14),(0.08,-1.06),(0.16,-0.84),(0.25,-0.53),(0.33,-0.23),(0.42,-0.08),(0.5,0.0),(0.59,-0.08),(0.72,-0.12),(0.85,-0.23),(0.98,-0.46),(1.11,-0.61)],
    [(-1.27,-0.05),(-1.2,-0.09),(-1.03,0.0),(-0.86,-0.05),(-0.69,0.0),(-0.56,0.0),(-0.44,-0.12),(-0.37,-0.43),(-0.33,-0.88),(-0.3,-1.49),(-0.27,-2.1),(-0.22,-2.86),(-0.14,-3.31),(-0.03,-3.5),(0.08,-3.39),(0.16,-3.02),(0.21,-2.25),(0.25,-1.49),(0.3,-0.88),(0.34,-0.35),(0.38,-0.05),(0.46,0.06),(0.55,0.03),(0.68,0.0),(0.85,-0.12),(0.98,-0.12),(1.11,0.0),(1.2,-0.09)],
    [(-0.87,-0.18),(-0.69,-0.1),(-0.57,-0.02),(-0.52,-0.02),(-0.44,-0.1),(-0.35,-0.17),(-0.26,-0.28),(-0.14,-0.4),(-0.03,-0.48),(0.08,-0.4),(0.16,-0.25),(0.25,-0.1),(0.33,-0.02),(0.42,0.02),(0.55,0.05),(0.72,0.13),(0.89,0.08),(0.98,0.05)],
]

C5_LABELS = ["4948.793", "4951.584", "4977.035", "4993.358", "5004.195", "5089.214",
             "5106.109", "5127.866", "5132.669", "5149.465", "5203.638", "5219.926",
             "5272.397", "5291.666", "5387.063", "5529.932", "5567.842"]
C5_MARKS = [(-0.76, 0.61), (-0.71, 0.61), (-0.71, 0.61), (-0.61, 0.61), (-0.71, 0.56), (-0.71, 0.56),
            (-0.73, 0.57), (-0.68, 0.52), (-0.63, 0.48), (-0.68, 0.52), (-0.68, 0.4), (-0.68, 0.52),
            (-0.76, 0.56), (-0.71, 0.56), (-0.91, 0.91), (-0.81, 0.96), (-0.71, 0.71)]
C5_PROFILES = [
    [(-1.27,-0.1),(-1.0,-0.05),(-0.85,-0.1),(-0.75,0.0),(-0.6,-0.05),(-0.45,-0.1),(-0.3,-0.2),(-0.15,-0.25),(0.0,-0.3),(0.15,-0.25),(0.3,-0.15),(0.45,0.0),(0.6,0.05),(0.8,0.0),(1.0,0.0),(1.22,-0.05)],
    [(-1.27,-0.05),(-1.0,0.0),(-0.8,0.0),(-0.7,-0.02),(-0.55,-0.05),(-0.4,-0.15),(-0.3,-0.4),(-0.2,-0.6),(-0.1,-0.7),(0.0,-0.72),(0.1,-0.65),(0.2,-0.45),(0.3,-0.2),(0.4,-0.05),(0.5,0.0),(0.6,0.0),(0.8,-0.05),(1.0,0.0),(1.22,-0.05)],
    [(-1.27,-0.1),(-1.0,-0.05),(-0.8,0.0),(-0.7,0.0),(-0.5,-0.05),(-0.35,-0.2),(-0.2,-0.3),(0.0,-0.35),(0.2,-0.3),(0.35,-0.15),(0.5,0.0),(0.6,0.05),(0.8,0.0),(1.0,-0.05),(1.22,-0.05)],
    [(-1.25,-0.35),(-1.1,-0.2),(-0.9,-0.1),(-0.7,0.0),(-0.6,0.0),(-0.5,-0.05),(-0.4,-0.2),(-0.3,-0.55),(-0.2,-0.75),(-0.1,-0.85),(0.0,-0.87),(0.1,-0.85),(0.2,-0.7),(0.3,-0.35),(0.4,-0.05),(0.5,0.0),(0.6,0.0),(0.8,0.0),(1.0,-0.05),(1.22,0.0)],
    [(-1.25,-0.1),(-1.0,-0.05),(-0.8,0.0),(-0.7,0.0),(-0.55,-0.05),(-0.45,-0.2),(-0.35,-0.5),(-0.25,-0.85),(-0.15,-1.05),(-0.05,-1.15),(0.05,-1.15),(0.15,-1.0),(0.25,-0.7),(0.35,-0.3),(0.45,-0.05),(0.55,0.0),(0.75,0.0),(1.0,-0.05),(1.22,0.0)],
    [(-1.25,0.0),(-0.9,-0.05),(-0.7,0.0),(-0.5,-0.05),(-0.35,-0.2),(-0.2,-0.3),(-0.05,-0.35),(0.1,-0.35),(0.25,-0.25),(0.4,-0.1),(0.55,0.0),(0.8,0.0),(1.0,-0.05),(1.22,-0.05)],
    [(-1.3,-0.04),(-1.2,-0.1),(-0.98,-0.05),(-0.85,-0.33),(-0.76,-0.1),(-0.72,-0.1),(-0.6,-0.1),(-0.51,-0.18),(-0.34,-0.18),(-0.17,-0.15),(0.0,-0.21),(0.17,-0.15),(0.34,-0.03),(0.47,0.0),(0.56,0.0),(0.6,-0.03),(0.77,-0.1),(0.94,-0.1),(1.11,-0.15)],
    [(-1.3,-0.09),(-1.09,-0.17),(-0.92,-0.09),(-0.75,-0.09),(-0.67,-0.05),(-0.54,-0.17),(-0.45,-0.24),(-0.32,-0.4),(-0.15,-0.55),(0.0,-0.62),(0.09,-0.55),(0.17,-0.32),(0.26,-0.17),(0.39,-0.05),(0.51,0.02),(0.64,0.0),(0.81,0.0),(0.86,-0.17),(0.9,-0.77),(0.94,-1.38),(1.03,-1.84),(1.11,-1.99),(1.2,-2.07)],
    [(-1.26,-0.14),(-1.09,0.02),(-0.92,-0.06),(-0.75,0.02),(-0.62,-0.06),(-0.54,-0.14),(-0.45,-0.29),(-0.32,-0.44),(-0.2,-0.44),(-0.07,-0.36),(0.09,-0.36),(0.26,-0.26),(0.39,-0.06),(0.47,0.02),(0.56,-0.06),(0.64,-0.29),(0.73,-1.05),(0.86,-1.2),(0.98,-1.28),(1.03,-1.35)],
    [(-0.96,-0.2),(-0.88,-0.12),(-0.75,-0.12),(-0.67,-0.12),(-0.58,-0.2),(-0.45,-0.35),(-0.32,-0.58),(-0.15,-0.8),(-0.07,-0.96),(0.0,-0.88),(0.09,-0.73),(0.17,-0.5),(0.3,-0.2),(0.43,0.0),(0.51,0.03),(0.64,-0.12),(0.81,-0.2),(0.98,-0.27),(1.15,-0.35)],
    [(-1.26,-0.55),(-1.09,-0.47),(-0.96,-0.32),(-0.75,-0.17),(-0.67,-0.02),(-0.54,-0.02),(-0.41,-0.09),(-0.28,-0.17),(-0.15,-0.21),(0.0,-0.21),(0.17,-0.17),(0.3,-0.09),(0.39,-0.02),(0.43,-0.17),(0.51,-0.4),(0.6,-0.7),(0.68,-0.78),(0.73,-0.73)],
    [(-1.26,-0.21),(-1.09,-0.24),(-0.92,-0.18),(-0.75,-0.14),(-0.67,-0.06),(-0.5,-0.06),(-0.32,-0.09),(-0.15,-0.14),(0.0,-0.06),(0.17,-0.03),(0.34,-0.02),(0.51,0.05),(0.68,-0.02),(0.86,-0.06),(1.03,-0.14),(1.2,-0.17)],
    [(-1.27,-0.05),(-1.0,0.0),(-0.85,-0.05),(-0.75,0.0),(-0.6,-0.05),(-0.45,-0.15),(-0.35,-0.35),(-0.25,-0.6),(-0.15,-0.85),(-0.05,-1.05),(0.05,-1.1),(0.15,-0.95),(0.25,-0.65),(0.35,-0.3),(0.45,-0.05),(0.55,0.0),(0.75,-0.1),(0.95,-0.3),(1.1,-0.4)],
    [(-1.27,0.0),(-1.0,-0.05),(-0.8,0.0),(-0.7,0.0),(-0.55,-0.05),(-0.4,-0.2),(-0.25,-0.35),(-0.1,-0.45),(0.0,-0.5),(0.1,-0.45),(0.25,-0.3),(0.4,-0.1),(0.55,0.0),(0.75,0.0),(1.0,-0.05),(1.22,0.0)],
    [(-1.27,0.0),(-1.0,0.0),(-0.9,0.0),(-0.7,-0.05),(-0.5,-0.15),(-0.3,-0.25),(-0.1,-0.3),(0.1,-0.3),(0.3,-0.25),(0.5,-0.15),(0.7,-0.05),(0.9,0.0),(1.1,0.0),(1.22,0.0)],
    [(-1.27,-2.8),(-1.22,-2.0),(-1.15,-0.3),(-1.05,-0.1),(-0.9,-0.05),(-0.8,0.0),(-0.6,0.05),(-0.4,0.0),(-0.2,-0.05),(0.0,-0.05),(0.2,0.0),(0.4,0.0),(0.6,0.05),(0.8,0.0),(0.95,0.05),(1.1,0.0),(1.22,0.0)],
    [(-1.0,-0.1),(-0.8,0.0),(-0.7,0.0),(-0.5,-0.1),(-0.3,-0.2),(-0.1,-0.3),(0.1,-0.3),(0.3,-0.25),(0.5,-0.1),(0.7,0.0),(0.9,0.0),(1.1,-0.05)],
]

C6_LABELS = ["5645.392", "5835.492", "6084.111", "6147.741", "6149.258", "6175.146", "6248.898"]
C6_MARKS = [(-0.76, 0.71), (-0.76, 0.61), (-0.81, 0.81), (-0.76, 0.61), (-0.71, 0.61), (-0.76, 0.66),
            (-0.71, 0.86)]
C6_PROFILES = [
    [(-1.2,0.0),(-0.95,-0.05),(-0.75,0.0),(-0.55,-0.05),(-0.35,-0.15),(-0.15,-0.25),(0.05,-0.3),(0.25,-0.25),(0.45,-0.1),(0.6,0.0),(0.7,0.05),(0.9,0.0),(1.1,0.0),(1.22,0.0)],
    [(-1.25,0.0),(-1.15,-0.2),(-1.1,-0.7),(-1.05,-0.3),(-1.0,0.0),(-0.85,0.0),(-0.75,0.0),(-0.55,-0.05),(-0.35,-0.1),(-0.15,-0.15),(0.05,-0.15),(0.25,-0.1),(0.45,-0.05),(0.6,0.0),(0.7,-0.05),(0.76,-0.4),(0.8,-0.05),(0.95,0.0),(1.2,0.0)],
    [(-1.2,0.0),(-1.0,-0.05),(-0.8,0.0),(-0.6,-0.1),(-0.4,-0.2),(-0.2,-0.3),(0.0,-0.3),(0.2,-0.3),(0.4,-0.2),(0.6,-0.1),(0.8,0.0),(1.0,0.0),(1.22,0.0)],
    [(-1.27,-0.35),(-1.1,-0.15),(-0.9,-0.05),(-0.75,0.0),(-0.6,-0.05),(-0.45,-0.2),(-0.3,-0.4),(-0.15,-0.5),(0.0,-0.5),(0.15,-0.5),(0.3,-0.35),(0.45,-0.1),(0.6,0.0),(0.8,0.0),(0.95,0.0),(1.05,-0.3),(1.12,-0.9),(1.2,-1.4),(1.27,-1.5)],
    [(-1.27,-0.25),(-1.1,-0.1),(-0.9,0.0),(-0.7,0.0),(-0.55,-0.05),(-0.45,-0.2),(-0.35,-0.5),(-0.25,-0.85),(-0.1,-1.0),(0.05,-1.05),(0.2,-0.95),(0.3,-0.6),(0.4,-0.2),(0.5,-0.05),(0.6,0.0),(0.8,0.0),(1.0,0.05),(1.22,0.0)],
    [(-1.27,0.0),(-1.0,-0.05),(-0.75,0.0),(-0.55,-0.05),(-0.35,-0.2),(-0.15,-0.35),(0.05,-0.4),(0.25,-0.3),(0.45,-0.1),(0.65,0.0),(0.85,0.0),(1.05,-0.05),(1.22,0.0)],
    [(-1.26,-4.0),(-1.15,-2.9),(-1.05,-1.5),(-0.95,-0.6),(-0.85,-0.3),(-0.7,-0.2),(-0.5,-0.2),(-0.3,-0.25),(-0.1,-0.3),(0.1,-0.35),(0.3,-0.25),(0.5,-0.1),(0.7,0.0),(0.85,0.0),(1.0,-0.05),(1.22,-0.05)],
]

COLUMNS = [("Fe I", C1_LABELS, C1_PROFILES, C1_MARKS),
           ("Fe I", C2_LABELS, C2_PROFILES, C2_MARKS),
           ("Fe I", C3_LABELS, C3_PROFILES, C3_MARKS),
           ("Fe II", C4_LABELS, C4_PROFILES, C4_MARKS),
           ("Fe II", C5_LABELS, C5_PROFILES, C5_MARKS),
           ("Fe II", C6_LABELS, C6_PROFILES, C6_MARKS)]

ROW_STEP = 2.0          # vertical offset between lines, in units of 0.01
SCALE_BAR = 1.0         # 0.01

# ---------------- drawing ----------------
W, H = 708, 917
fig = plt.figure(figsize=(W / 100, H / 100), dpi=100)

ax_left_px, col_w_px = 63.3, 98.7
ax_top_px, ax_bot_px = 6.0, 842.7
row0_px = 49.3
px_per_unit = 21.95
ytop = (row0_px - ax_top_px) / px_per_unit
ybot = -(ax_bot_px - row0_px) / px_per_unit

VIOLET = '#f57cf5'
DODGER = '#1e8fff'

for ci, (ion, labels, profiles, marks) in enumerate(COLUMNS):
    ax = fig.add_axes([(ax_left_px + ci * col_w_px) / W, 1 - ax_bot_px / H,
                       col_w_px / W, (ax_bot_px - ax_top_px) / H])
    ax.set_xlim(-1.27, 1.27)
    ax.set_ylim(ybot, ytop)
    for i, (lab, prof, (ma, mb)) in enumerate(zip(labels, profiles, marks)):
        base = -ROW_STEP * i
        x = np.array([p[0] for p in prof])
        f = np.array([p[1] for p in prof])
        if i % 2 == 0:
            lc, mc = VIOLET, 'red'
        else:
            lc, mc = DODGER, 'blue'
        ax.plot(x, base + f, color=lc, lw=1.0, zorder=2)
        sel = (x >= ma) & (x <= mb)
        ax.plot(x[sel], base + f[sel], linestyle='none', marker='o', mfc='none',
                mec=mc, ms=2.7, mew=0.95, zorder=4)
        ax.axhline(base, color='black', lw=1.2, ls=(0, (5, 2.5)), zorder=3)
        ax.text(-1.0, base + 0.06, lab, fontsize=10, ha='left', va='baseline', zorder=1)
    ax.text(-0.68, 1.24, ion, fontsize=9, ha='left', va='center')
    # scale bar 0.01
    yb = -35.2
    ax.plot([-0.93, -0.93], [yb, yb + SCALE_BAR], color='black', lw=1.2)
    ax.plot([-1.03, -0.83], [yb, yb], color='black', lw=1.2)
    ax.plot([-1.03, -0.83], [yb + SCALE_BAR, yb + SCALE_BAR], color='black', lw=1.2)
    ax.text(-0.57, yb + SCALE_BAR / 2, "0.01", fontsize=10.5, ha='left', va='center')

    ax.set_xticks([-1, 0, 1])
    ax.set_xticklabels(['-1', '0', '1'])
    ax.set_xticks([-0.5, 0.5], minor=True)
    ax.set_yticks([])
    ax.tick_params(axis='x', which='both', direction='in', top=True, bottom=True,
                   width=1.2, labelsize=12, pad=5)
    ax.tick_params(axis='x', which='major', length=7)
    ax.tick_params(axis='x', which='minor', length=4)
    for s in ax.spines.values():
        s.set_linewidth(1.2)

fig.text(0.507, 0.040, 'Δλ (Å)', ha='center', va='center', fontsize=13.5)

fig.savefig('out.png', dpi=100)
